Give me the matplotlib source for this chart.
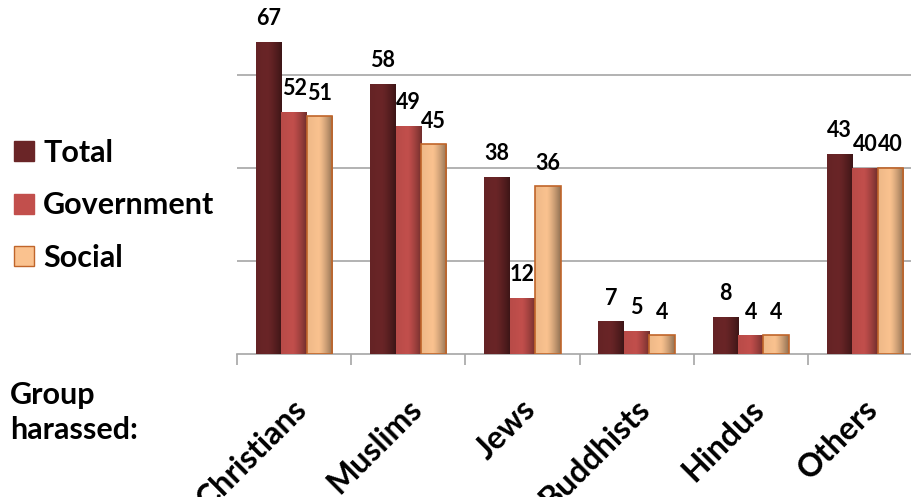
import numpy as np
import matplotlib
matplotlib.use("Agg")
import matplotlib.pyplot as plt
from matplotlib.patches import Patch
from matplotlib.transforms import ScaledTranslation

plt.rcParams['font.family'] = ['Lato', 'DejaVu Sans']
plt.rcParams['font.weight'] = 'bold'

categories = ["Christians", "Muslims", "Jews", "Buddhists", "Hindus", "Others"]
series_names = ["Total", "Government", "Social"]
total = [67, 58, 38, 7, 8, 43]
government = [52, 49, 12, 5, 4, 40]
social = [51, 45, 36, 4, 4, 40]
series_values = [total, government, social]

base_colors = ["#6a2527", "#c24f4c", "#fac28f"]
edge_colors = [None, None, "#c0652a"]

fig = plt.figure(figsize=(9.11, 4.97), dpi=100)
W, H = 911, 497
ax = fig.add_axes([237 / W, (H - 354) / H, 685 / W, 354 / H])

x = np.arange(len(categories))
bw = 0.223
offsets = [-bw, 0, bw]

def shade(color, n=64):
    rgb = np.array(matplotlib.colors.to_rgb(color))
    t = np.linspace(0, 1, n)
    f = np.where(t < 0.45, 1.0 - 0.05 * (0.45 - t) / 0.45,
                 1.0 - 0.42 * ((t - 0.45) / 0.55) ** 1.3)
    img = np.clip(rgb[None, :] * f[:, None], 0, 1)
    return img[None, :, :]

for vals, off, c, ec in zip(series_values, offsets, base_colors, edge_colors):
    bars = ax.bar(x + off, vals, width=bw, color=c, edgecolor='none', zorder=2)
    grad = shade(c)
    for rect in bars:
        x0, w, h = rect.get_x(), rect.get_width(), rect.get_height()
        im = ax.imshow(grad, extent=[x0, x0 + w, 0, h], aspect='auto',
                       zorder=3, interpolation='bilinear')
        im.set_clip_path(rect)
    if ec:
        ax.bar(x + off, vals, width=bw, fill=False, edgecolor=ec, linewidth=1.2, zorder=4)
    for xi, v in zip(x + off, vals):
        ax.annotate(str(v), (xi, v), xytext=(0, 12), textcoords='offset points',
                    ha='center', va='baseline', fontsize=15.5, fontweight='bold',
                    color='black', zorder=5)

ax.set_xlim(-0.5, len(categories) - 0.5)
ax.set_ylim(0, 76)
ax.set_yticks([20, 40, 60])
ax.yaxis.grid(True, color='#a6a6a6', linewidth=1.2)
ax.set_axisbelow(True)
ax.tick_params(axis='y', length=0, labelleft=False)
ax.set_xticks(np.arange(len(categories) + 1) - 0.5)
ax.set_xticklabels([])
ax.tick_params(axis='x', length=8, width=1.2, color='#a6a6a6', direction='out')
for s in ['top', 'right', 'left']:
    ax.spines[s].set_visible(False)
ax.spines['bottom'].set_color('#a6a6a6')
ax.spines['bottom'].set_linewidth(1.2)

for xi, lab in zip(x, categories):
    tr = ax.transData + ScaledTranslation(15 / 100, -57 / 100, fig.dpi_scale_trans)
    ax.text(xi, 0, lab, transform=tr, rotation=45, rotation_mode='anchor',
            ha='right', va='baseline', fontsize=23, fontweight='bold', color='black',
            clip_on=False)

handles = [Patch(facecolor=c, edgecolor=(ec if ec else c), linewidth=1.0)
           for c, ec in zip(base_colors, edge_colors)]
fig.legend(handles, series_names, loc='upper left',
           bbox_to_anchor=(14 / W, 1 - 139 / H), frameon=False,
           prop={'family': ['Lato', 'DejaVu Sans'], 'weight': 'bold', 'size': 22},
           handlelength=0.65, handleheight=0.65, handletextpad=0.3,
           labelspacing=0.8, borderpad=0, borderaxespad=0)

fig.text(10 / W, 1 - 381 / H, "Group\nharassed:", ha='left', va='top',
         fontsize=22, fontweight='bold', color='black', linespacing=1.3)

fig.savefig("out.png", dpi=100)
